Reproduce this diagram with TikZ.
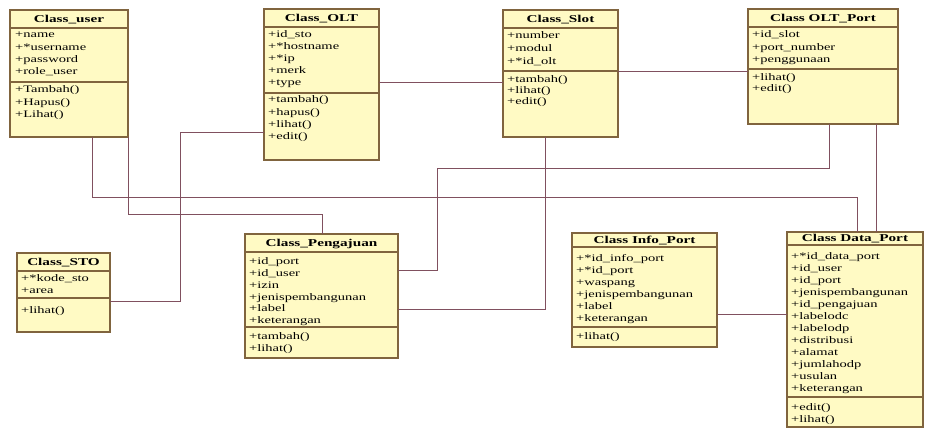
\documentclass[tikz,border=0pt]{standalone}
\usepackage{fontspec}
\setmainfont[FakeStretch=1.45]{Liberation Serif}
\usetikzlibrary{calc}

\definecolor{boxfill}{RGB}{255,250,196}
\definecolor{boxedge}{RGB}{128,100,62}
\definecolor{wirecol}{RGB}{128,80,95}

\tikzset{
  classrect/.style={draw=boxedge, fill=boxfill, line width=1.2pt,
    inner sep=0pt, outer sep=0pt, anchor=north west},
  compline/.style={draw=boxedge, line width=1.1pt},
  classtitle/.style={font=\fontsize{10.5}{12}\selectfont\bfseries,
    inner sep=0pt, text height=7.5pt, text depth=2pt},
  member/.style={font=\fontsize{10}{12}\selectfont, anchor=west,
    inner sep=0pt, text height=7.5pt, text depth=2pt},
  wire/.style={draw=wirecol, line width=0.9pt},
}

% #1 name, #2 x1, #3 y1, #4 x2, #5 y2, #6 title, #7 first separator, #8 second separator
\newcommand\umlclass[8]{%
  \node[classrect, minimum width={(#4-#2)*1pt}, minimum height={(#5-#3)*1pt}]
    (#1) at (#2,#3) {};
  \draw[compline] (#1.west |- 0,#7) -- (#1.east |- 0,#7);
  \draw[compline] (#1.west |- 0,#8) -- (#1.east |- 0,#8);
  \node[classtitle] (#1-title) at (#1.north |- 0,{(#3+#7)/2+0.5}) {#6};
}
% #1 name prefix, #2 x, #3 first row y, #4 row step, #5 rows
\newcommand\umlrows[5]{%
  \foreach \m [count=\i] in {#5} {
    \node[member] (#1-\i) at (#2,{#3+(\i-1)*#4}) {\m};
  }
}

\begin{document}
\begin{tikzpicture}[x=1pt,y=-1pt]
  \useasboundingbox (0,0) rectangle (926,428);

  % Class_user
  \umlclass{user}{10}{10}{128}{137}{Class\_user}{28}{82}
  \umlrows{usera}{15}{35}{12.3}{+name,+*username,+password,+role\_user}
  \umlrows{usero}{15}{90}{12.4}{+Tambah(),+Hapus(),+Lihat()}

  % Class_OLT
  \umlclass{olt}{264}{9}{379}{160}{Class\_OLT}{27}{93}
  \umlrows{olta}{268}{35}{12}{+id\_sto,+*hostname,+*ip,+merk,+type}
  \umlrows{olto}{268}{100}{12.3}{+tambah(),+hapus(),+lihat(),+edit()}

  % Class_Slot
  \umlclass{slot}{503}{10}{618}{137}{Class\_Slot}{28}{71}
  \umlrows{slota}{507}{36}{13}{+number,+modul,+*id\_olt}
  \umlrows{sloto}{507}{80}{11}{+tambah(),+lihat(),+edit()}

  % Class OLT_Port
  \umlclass{port}{748}{9}{898}{124}{Class OLT\_Port}{27}{69}
  \umlrows{porta}{752}{35}{12.5}{+id\_slot,+port\_number,+penggunaan}
  \umlrows{porto}{752}{78}{11}{+lihat(),+edit()}

  % Class_STO
  \umlclass{sto}{17}{253}{110}{332}{Class\_STO}{271}{298}
  \umlrows{stoa}{21}{279}{12}{+*kode\_sto,+area}
  \umlrows{stoo}{21}{311}{12}{+lihat()}

  % Class_Pengajuan
  \umlclass{peng}{245}{234}{398}{358}{Class\_Pengajuan}{252}{327}
  \umlrows{penga}{249}{262}{11.8}{+id\_port,+id\_user,+izin,+jenispembangunan,+label,+keterangan}
  \umlrows{pengo}{249}{337}{11.5}{+tambah(),+lihat()}

  % Class Info_Port
  \umlclass{info}{572}{233}{717}{347}{Class Info\_Port}{247}{327}
  \umlrows{infoa}{576}{259}{12}{+*id\_info\_port,+*id\_port,+waspang,+jenispembangunan,+label,+keterangan}
  \umlrows{infoo}{576}{337}{12}{+lihat()}

  % Class Data_Port
  \umlclass{dp}{787}{232}{923}{427}{Class Data\_Port}{245}{397}
  \umlrows{dpa}{791}{257}{12}{+*id\_data\_port,+id\_user,+id\_port,+jenispembangunan,+id\_pengajuan,+labelodc,+labelodp,+distribusi,+alamat,+jumlahodp,+usulan,+keterangan}
  \umlrows{dpo}{791}{408}{12}{+edit(),+lihat()}

  % associations
  \draw[wire] ([xshift=82pt]user.south west) -- ++(0,60) -| ([xshift=70pt]dp.north west);
  \draw[wire] (user.south east) -- ++(0,77) -| ([xshift=77pt]peng.north west);
  \draw[wire] (olt.west |- 0,132) -- (180,132) |- (sto.east |- 0,301);
  \draw[wire] (olt.east |- 0,82) -- (slot.west |- 0,82);
  \draw[wire] (slot.east |- 0,71) -- (port.west |- 0,71);
  \draw[wire] ([xshift=42pt]slot.south west) |- (peng.east |- 0,309);
  \draw[wire] ([xshift=81pt]port.south west) |- (437,168) |- (peng.east |- 0,270);
  \draw[wire] ([xshift=128pt]port.south west) -- ([xshift=89pt]dp.north west);
  \draw[wire] (info.east |- 0,314) -- (dp.west |- 0,314);
\end{tikzpicture}
\end{document}
